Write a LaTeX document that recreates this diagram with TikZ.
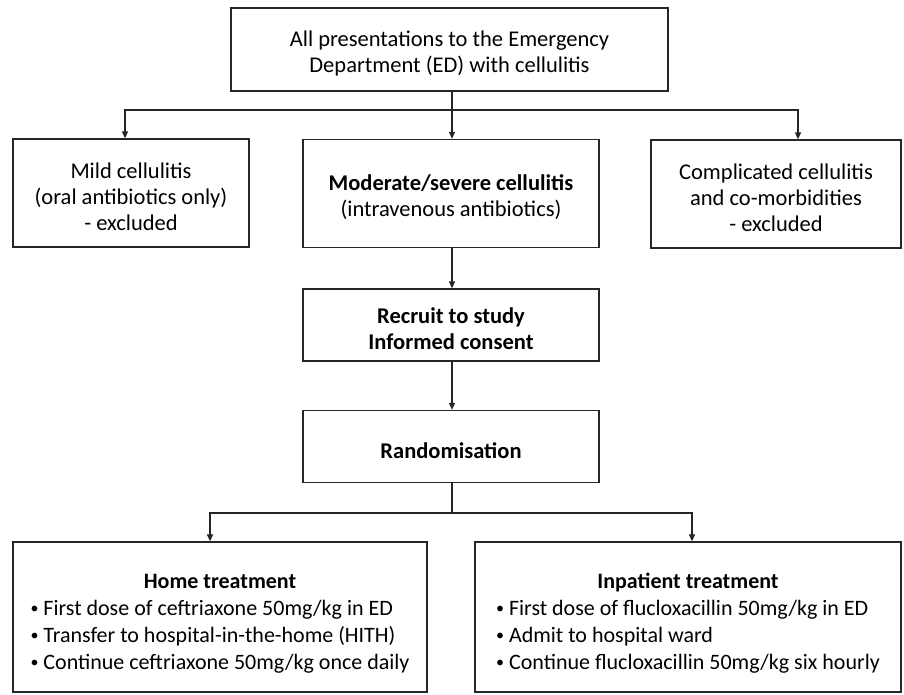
\documentclass[tikz,border=0pt]{standalone}
\usepackage{fontspec}
\setmainfont{Carlito}
\usetikzlibrary{arrows.meta,positioning,calc}
\newcommand{\tp}{\rule{0pt}{24pt}}
\newcommand{\bul}{{\fontsize{16}{16}\selectfont\raisebox{2pt}{•}}\ }
\begin{document}
\begin{tikzpicture}[x=1pt,y=1pt,
  box/.style={draw=black!85, line width=1.3pt, align=center, inner sep=2pt,
    font=\fontsize{22.5}{26}\selectfont},
  bbox/.style={box, font=\bfseries\fontsize{22.5}{26}\selectfont},
  arr/.style={draw=black!85, line width=1.2pt, -{Triangle[length=7pt,width=6pt]}},
  ln/.style={draw=black!85, line width=1.2pt}]
\useasboundingbox (0,0) rectangle (904,-695);
\node[box, minimum width=437, minimum height=83] (top) at (449.5,-49.5)
  {\tp All presentations to the Emergency\\Department (ED) with cellulitis};
\node[box, minimum width=236, minimum height=108] (mild) at (131,-193)
  {\tp Mild cellulitis\\(oral antibiotics only)\\- excluded};
\node[box, minimum width=296, minimum height=108] (mod) at (451,-193.5)
  {\tp\textbf{Moderate/severe cellulitis}\\(intravenous antibiotics)};
\node[box, minimum width=250, minimum height=108] (comp) at (776,-194)
  {\tp Complicated cellulitis\\and co-morbidities\\- excluded};
\node[bbox, minimum width=296, minimum height=72] (rec) at (451,-325)
  {\tp Recruit to study\\Informed consent};
\node[bbox, minimum width=296, minimum height=72] (rand) at (451,-446.5)
  {\tp Randomisation};
\node[box, minimum width=414, minimum height=150, font=\fontsize{22}{27}\selectfont] (home) at (220,-617)
  {\begin{tabular}{@{}l@{}}
   \multicolumn{1}{c}{\rule{0pt}{33pt}\textbf{Home treatment}}\\
   \bul First dose of ceftriaxone 50mg/kg in ED\\
   \bul Transfer to hospital-in-the-home (HITH)\\
   \bul Continue ceftriaxone 50mg/kg once daily
   \end{tabular}};
\node[box, minimum width=426, minimum height=150, font=\fontsize{22}{27}\selectfont] (inp) at (688,-617)
  {\begin{tabular}{@{}l@{}}
   \multicolumn{1}{c}{\rule{0pt}{33pt}\textbf{Inpatient treatment}}\\
   \bul First dose of flucloxacillin 50mg/kg in ED\\
   \bul Admit to hospital ward\\
   \bul Continue flucloxacillin 50mg/kg six hourly
   \end{tabular}};
\coordinate (s1) at (452,-110);
\coordinate (s2) at (452,-513);
\draw[ln] (s1 |- top.south) -- (s1);
\draw[arr] (s1) -| ($(mild.north)+(-6,0)$);
\draw[arr] (s1) -| ($(comp.north)+(22,0)$);
\draw[arr] (s1) -- (s1 |- mod.north);
\draw[arr] (s1 |- mod.south) -- (s1 |- rec.north);
\draw[arr] (s1 |- rec.south) -- (s1 |- rand.north);
\draw[ln] (s2 |- rand.south) -- (s2);
\draw[arr] (s2) -| ($(home.north)+(-10,0)$);
\draw[arr] (s2) -| ($(inp.north)+(4,0)$);
\end{tikzpicture}
\end{document}
